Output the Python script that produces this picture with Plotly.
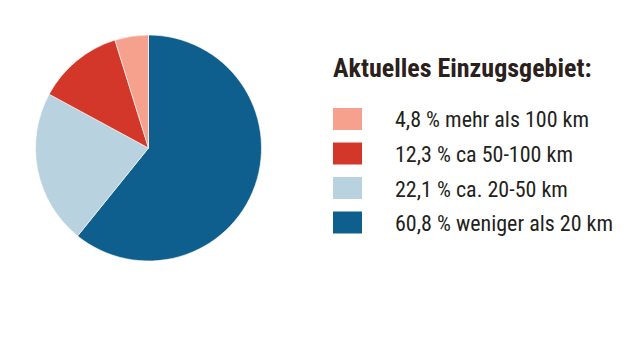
import plotly.graph_objects as go

labels = ["weniger als 20 km", "ca. 20-50 km", "ca 50-100 km", "mehr als 100 km"]
values = [60.8, 22.1, 12.3, 4.8]
colors = ["#0f5f8e", "#b8d2df", "#d3372a", "#f5a18d"]
title = "Aktuelles Einzugsgebiet:"

W, H = 641, 361
FONT = "Roboto Condensed, DejaVu Sans Condensed, sans-serif"
fig = go.Figure()
fig.add_trace(go.Pie(
    labels=labels, values=values, sort=False, direction="clockwise", rotation=0,
    marker=dict(colors=colors, line=dict(color="white", width=0.6)),
    textinfo="none", hoverinfo="label+percent", showlegend=False,
    domain=dict(x=[35 / W, 262 / W], y=[1 - 261 / H, 1 - 35 / H]),
))

fig.add_annotation(x=331 / W, y=1 - 68 / H, xref="paper", yref="paper",
                   text="<b>" + title + "</b>", showarrow=False, xanchor="left", yanchor="middle",
                   font=dict(family=FONT, size=26, color="#2a201c"))

row_y = [119, 153.5, 188, 222.5]
order = list(range(len(values)))[::-1]
for i, idx in enumerate(order):
    yc = row_y[i]
    fig.add_shape(type="rect", xref="paper", yref="paper",
                  x0=333 / W, x1=362 / W, y0=1 - (yc - 11) / H, y1=1 - (yc + 11) / H,
                  fillcolor=colors[idx], line=dict(width=0))
    txt = f"{values[idx]:.1f}".replace(".", ",") + " % " + labels[idx]
    fig.add_annotation(x=393 / W, y=1 - (yc + 1) / H, xref="paper", yref="paper",
                       text=txt, showarrow=False, xanchor="left", yanchor="middle",
                       font=dict(family=FONT, size=22, color="#231f20"))

fig.update_layout(width=W, height=H, margin=dict(l=0, r=0, t=0, b=0),
                  paper_bgcolor="white", plot_bgcolor="white")
fig.write_html("out.html", config={"displayModeBar": False},
               post_script="document.body.style.margin='0'")
